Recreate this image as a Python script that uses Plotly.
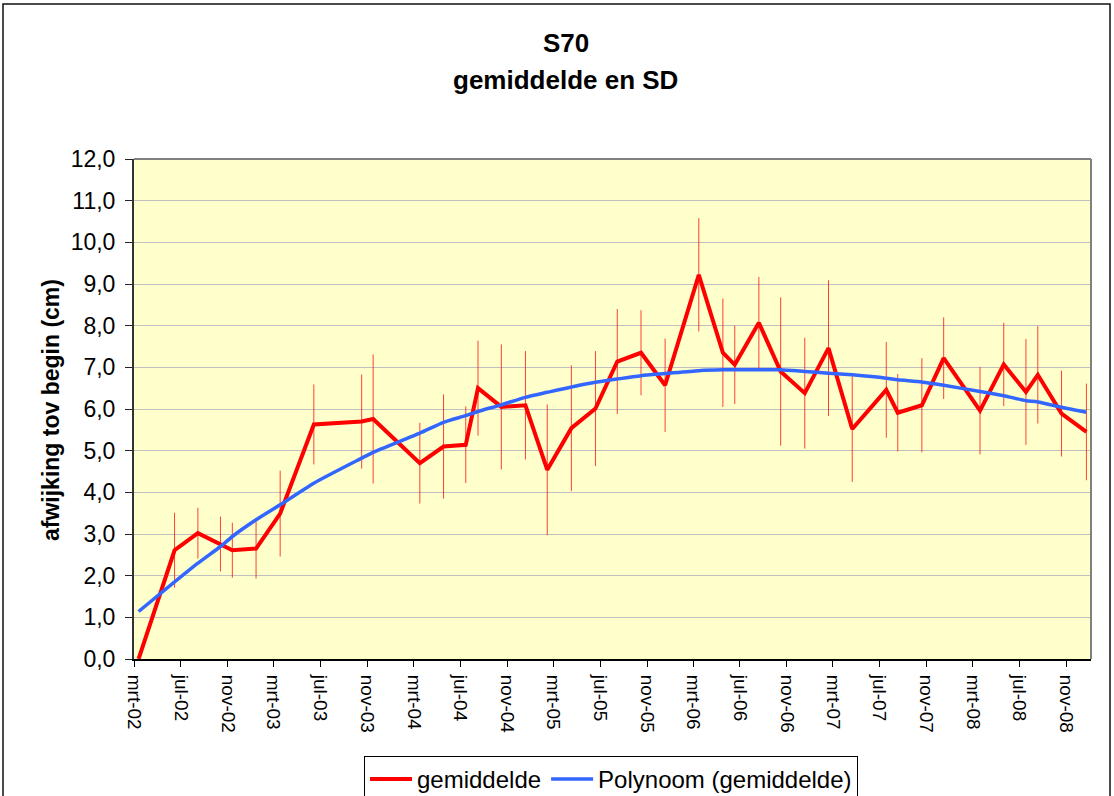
import plotly.graph_objects as go

# ---- data ----
dates = ["2002-03-13", "2002-06-15", "2002-08-15", "2002-10-13", "2002-11-13",
         "2003-01-14", "2003-03-18", "2003-06-14", "2003-10-17", "2003-11-16",
         "2004-03-17", "2004-05-18", "2004-07-15", "2004-08-16", "2004-10-16",
         "2004-12-18", "2005-02-13", "2005-04-17", "2005-06-19", "2005-08-15",
         "2005-10-16", "2005-12-18", "2006-03-16", "2006-05-18", "2006-06-18",
         "2006-08-20", "2006-10-16", "2006-12-18", "2007-02-18", "2007-04-21",
         "2007-07-19", "2007-08-18", "2007-10-20", "2007-12-16", "2008-03-20",
         "2008-05-21", "2008-07-18", "2008-08-18", "2008-10-19", "2008-12-23"]

gemiddelde = [0.00, 2.61, 3.02, 2.76, 2.61, 2.65, 3.49, 5.63, 5.70, 5.76,
              4.70, 5.10, 5.14, 6.50, 6.05, 6.09, 4.54, 5.54, 6.01, 7.14,
              7.35, 6.57, 9.22, 7.35, 7.06, 8.07, 6.90, 6.38, 7.46, 5.52,
              6.46, 5.91, 6.09, 7.22, 5.96, 7.07, 6.41, 6.82, 5.89, 5.45]

sd = [0.00, 0.90, 0.61, 0.66, 0.66, 0.72, 1.03, 0.96, 1.13, 1.55,
      0.97, 1.25, 0.92, 1.14, 1.50, 1.30, 1.57, 1.51, 1.38, 1.26,
      1.02, 1.12, 1.36, 1.30, 0.94, 1.10, 1.78, 1.33, 1.63, 1.27,
      1.15, 0.93, 1.13, 0.98, 1.05, 1.00, 1.27, 1.17, 1.03, 1.16]

polynoom = [1.14, 1.85, 2.30, 2.70, 2.94, 3.34, 3.70, 4.22, 4.82, 4.96,
            5.42, 5.68, 5.84, 5.94, 6.10, 6.28, 6.40, 6.53, 6.64, 6.72,
            6.80, 6.85, 6.92, 6.94, 6.94, 6.94, 6.94, 6.90, 6.86, 6.82,
            6.74, 6.70, 6.65, 6.57, 6.42, 6.32, 6.20, 6.17, 6.04, 5.92]

tick_dates = ["2002-03-01", "2002-07-01", "2002-11-01", "2003-03-01", "2003-07-01",
              "2003-11-01", "2004-03-01", "2004-07-01", "2004-11-01", "2005-03-01",
              "2005-07-01", "2005-11-01", "2006-03-01", "2006-07-01", "2006-11-01",
              "2007-03-01", "2007-07-01", "2007-11-01", "2008-03-01", "2008-07-01",
              "2008-11-01"]
tick_labels = ["mrt-02", "jul-02", "nov-02", "mrt-03", "jul-03", "nov-03", "mrt-04",
               "jul-04", "nov-04", "mrt-05", "jul-05", "nov-05", "mrt-06", "jul-06",
               "nov-06", "mrt-07", "jul-07", "nov-07", "mrt-08", "jul-08", "nov-08"]

FONT = "Liberation Sans, Arial, sans-serif"

fig = go.Figure()
fig.add_trace(go.Scatter(
    x=dates, y=gemiddelde, mode="lines", name="gemiddelde",
    line=dict(color="#FF0000", width=4),
    error_y=dict(type="data", array=sd, visible=True, color="rgba(255,0,0,0.75)",
                 thickness=1, width=0),
    cliponaxis=False,
))
fig.add_trace(go.Scatter(
    x=dates, y=polynoom, mode="lines", name="Polynoom (gemiddelde)",
    line=dict(color="#3366FF", width=3.5, shape="spline", smoothing=0.6),
))

W, H = 1114, 796
PL, PR, PT, PB = 134, 1091, 159, 659          # plot area in page pixels
L, T, R, B = PL, PT, W - PR, H - PB
pw, ph = W - L - R, H - T - B

def px(x):
    return (x - PL) / pw

def py(y):
    return (PB - y) / ph

fig.update_layout(
    width=W, height=H,
    margin=dict(l=L, r=R, t=T, b=B, pad=0, autoexpand=False),
    paper_bgcolor="white",
    plot_bgcolor="#FFFFCC",
    separators=",.",
    font=dict(family=FONT, color="black"),
    showlegend=True,
    legend=dict(orientation="h", x=px(611), xanchor="center", y=py(756), yanchor="top",
                bordercolor="black", borderwidth=1, bgcolor="white",
                font=dict(size=24, family=FONT), itemwidth=42,
                tracegroupgap=0),
    xaxis=dict(
        type="date",
        range=["2002-03-01", "2009-01-04"],
        tickmode="array", tickvals=tick_dates, ticktext=tick_labels,
        tickangle=90, tickfont=dict(size=19, family=FONT),
        ticks="outside", ticklen=6, tickcolor="black", tickwidth=1,
        ticklabelstandoff=4,
        showgrid=False, showline=True, linecolor="black", linewidth=2,
        zeroline=False, automargin=False,
    ),
    yaxis=dict(
        range=[0, 12], tick0=0, dtick=1, tickformat=".1f",
        tickfont=dict(size=23, family=FONT),
        ticks="outside", ticklen=7, tickcolor="#222", tickwidth=1,
        ticklabelstandoff=5,
        showgrid=True, gridcolor="#C0C0C0", gridwidth=1,
        showline=True, linecolor="#333333", linewidth=2,
        zeroline=False, automargin=False,
    ),
    shapes=[
        # grey top / right border of plot area
        dict(type="line", xref="paper", yref="paper", x0=0, x1=1, y0=1, y1=1,
             line=dict(color="#808080", width=2)),
        dict(type="line", xref="paper", yref="paper", x0=1, x1=1, y0=0, y1=1,
             line=dict(color="#808080", width=2)),
        # chart outer frame
        dict(type="rect", xref="paper", yref="paper",
             x0=px(3), x1=px(1110), y0=py(805), y1=py(4),
             line=dict(color="#111111", width=1.5), fillcolor="rgba(0,0,0,0)"),
    ],
    annotations=[
        dict(text="<b>S70</b>", xref="paper", yref="paper", x=px(565.5), y=py(43),
             xanchor="center", yanchor="middle", showarrow=False,
             font=dict(size=26, family=FONT)),
        dict(text="<b>gemiddelde en SD</b>", xref="paper", yref="paper",
             x=px(565.5), y=py(80), xanchor="center", yanchor="middle",
             showarrow=False, font=dict(size=26, family=FONT)),
        dict(text="<b>afwijking tov begin (cm)</b>", xref="paper", yref="paper",
             x=px(51), y=py(410), xanchor="center", yanchor="middle",
             textangle=-90, showarrow=False, font=dict(size=23, family=FONT)),
    ],
)

fig.write_html("out.html",
               config={"displayModeBar": False},
               post_script="document.body.style.margin='0';document.body.style.overflow='hidden';")
